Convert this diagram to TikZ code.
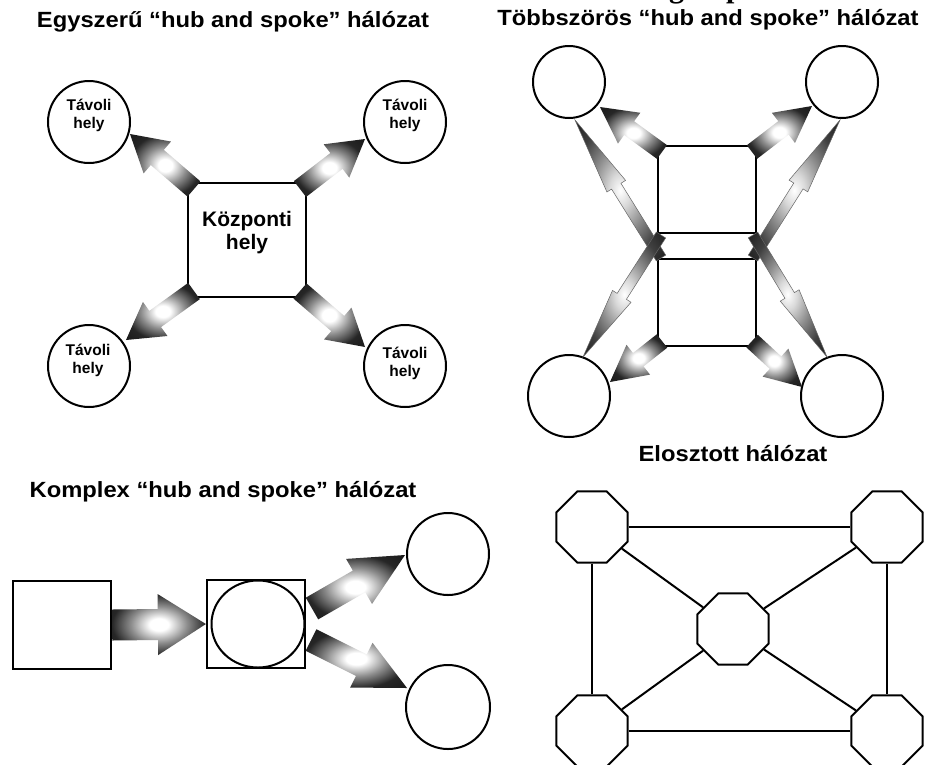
\documentclass[tikz,border=0pt]{standalone}
\usepackage{fontspec}
\usepackage{graphicx}
\setmainfont{Liberation Sans}
\newfontfamily\fragfont{Liberation Serif}
\usetikzlibrary{calc,shapes.geometric}

\pgfdeclareradialshading{fatglow}{\pgfpoint{0bp}{0bp}}{%
  color(0bp)=(white); color(5bp)=(white); color(15bp)=(black!45); color(25bp)=(black!85); color(35bp)=(black!90); color(50bp)=(black!90)}
\pgfdeclareradialshading{thinglow}{\pgfpoint{0bp}{0bp}}{%
  color(0bp)=(white); color(6bp)=(black!15); color(15bp)=(black!45); color(25bp)=(black!75); color(35bp)=(black!88); color(50bp)=(black!88)}

\newcommand\fatarrow[6][]{%
  \coordinate (faH) at ($(#3)!#6!(#2)$);
  \shade[#1] ($(#2)!#4!90:(#3)$) -- ($(faH)!#4!90:(#3)$) -- ($(faH)!#5!90:(#3)$) -- (#3)
    -- ($(faH)!#5!-90:(#3)$) -- ($(faH)!#4!-90:(#3)$) -- ($(#2)!#4!-90:(#3)$) -- cycle;
}

\tikzset{
  ttl/.style={font=\bfseries\fontsize{22}{24}\selectfont, inner sep=0pt},
  remote/.style={circle, draw, line width=2pt, minimum size=82pt, inner sep=0pt},
  rlabel/.style={align=center, inner sep=0pt, font=\bfseries\fontsize{15.5}{18}\selectfont},
  blank/.style={circle, draw, line width=2pt, inner sep=0pt},
  boxline/.style={rectangle, draw, line width=2.2pt, inner sep=0pt},
  fatshade/.style={shading=fatglow},
  thinshade/.style={shading=thinglow, draw=black!60, line width=0.5pt},
  octa/.style={regular polygon, regular polygon sides=8, draw, line width=2pt,
    minimum size=77pt, inner sep=0pt},
  edge/.style={line width=2pt},
}

\begin{document}
\begin{tikzpicture}[x=1pt,y=-1pt]
\useasboundingbox (0,0) rectangle (936,764);
\fill[white] (0,0) rectangle (936,764);

% fragment of a cut-off line at the top
\node[font=\fragfont\bfseries\fontsize{30}{32}\selectfont, anchor=base, inner sep=0pt] (frag) at (706,-3) {g\hspace{42pt}p};

% titles
\node[ttl] (title1) at (233,22) {\scalebox{1.08}[1]{Egyszerű “hub and spoke” hálózat}};
\node[ttl] (title2) at (708,20) {\scalebox{1.08}[1]{Többszörös “hub and spoke” hálózat}};
\node[ttl] (title3) at (223,492) {\scalebox{1.08}[1]{Komplex “hub and spoke” hálózat}};
\node[ttl] (title4) at (733,454) {\scalebox{1.08}[1]{Elosztott hálózat}};

% ---------- panel 1: simple hub and spoke
\node[boxline, minimum width=118pt, minimum height=114pt] (hub) at (247,240) {};
\node[font=\bfseries\fontsize{21}{23}\selectfont, align=center, inner sep=0pt] (hubl) at (247,233) {Központi\\hely};
\node[remote] (r1) at (89,122) {};
\node[remote] (r2) at (405,122) {};
\node[remote] (r3) at (89,366) {};
\node[remote] (r4) at (405,366) {};
\node[rlabel] (r1l) at (89,115) {Távoli\\hely};
\node[rlabel] (r2l) at (405,115) {Távoli\\hely};
\node[rlabel] (r3l) at (88,360) {Távoli\\hely};
\node[rlabel] (r4l) at (405,363) {Távoli\\hely};
\coordinate (b1) at (194,189); \coordinate (t1) at (130,134);
\coordinate (b2) at (300,189); \coordinate (t2) at (365,139);
\coordinate (b3) at (194,291); \coordinate (t3) at (126,340);
\coordinate (b4) at (300,291); \coordinate (t4) at (365,347);
\fatarrow[fatshade]{b1}{t1}{10pt}{21pt}{36pt}
\fatarrow[fatshade]{b2}{t2}{10pt}{21pt}{36pt}
\fatarrow[fatshade]{b3}{t3}{10pt}{21pt}{36pt}
\fatarrow[fatshade]{b4}{t4}{10pt}{21pt}{36pt}

% ---------- panel 2: multiple hub and spoke
\node[boxline, line width=2pt, minimum width=98pt, minimum height=87pt] (hu) at (707,189.5) {};
\node[boxline, line width=2pt, minimum width=98pt, minimum height=87pt] (hd) at (707,302.5) {};
\node[blank, minimum size=72pt] (m1) at (569,82) {};
\node[blank, minimum size=72pt] (m2) at (842,82) {};
\node[blank, minimum size=82pt] (m3) at (569,396) {};
\node[blank, minimum size=82pt] (m4) at (842,396) {};
\coordinate (fb1) at (662,152); \coordinate (ft1) at (600,107);
\coordinate (fb2) at (752,152); \coordinate (ft2) at (812,106);
\coordinate (fb3) at (662,341); \coordinate (ft3) at (610,382);
\coordinate (fb4) at (752,341); \coordinate (ft4) at (802,387);
\fatarrow[fatshade]{fb1}{ft1}{8.5pt}{19pt}{36pt}
\fatarrow[fatshade]{fb2}{ft2}{8.5pt}{19pt}{36pt}
\fatarrow[fatshade]{fb3}{ft3}{8.5pt}{19pt}{36pt}
\fatarrow[fatshade]{fb4}{ft4}{8.5pt}{19pt}{36pt}
\coordinate (tb1) at (661,258); \coordinate (tt1) at (575,120);
\coordinate (tb2) at (753,258); \coordinate (tt2) at (840,120);
\coordinate (tb3) at (661,235); \coordinate (tt3) at (583,357);
\coordinate (tb4) at (753,235); \coordinate (tt4) at (827,357);
\fatarrow[thinshade]{tb1}{tt1}{5.5pt}{11pt}{78pt}
\fatarrow[thinshade]{tb3}{tt3}{5.5pt}{11pt}{72pt}
\fatarrow[thinshade]{tb2}{tt2}{5.5pt}{11pt}{78pt}
\fatarrow[thinshade]{tb4}{tt4}{5.5pt}{11pt}{72pt}

% ---------- panel 3: complex hub and spoke
\node[boxline, minimum width=98pt, minimum height=88pt] (src) at (62,625) {};
\node[boxline, minimum width=98pt, minimum height=88pt] (mid) at (256,624) {};
\node[ellipse, draw, line width=2pt, minimum width=93pt, minimum height=87pt, inner sep=0pt] (midel) at (258,624) {};
\node[blank, minimum size=82pt] (k1) at (448,554) {};
\node[blank, minimum size=84pt] (k2) at (448,707) {};
\coordinate (kb0) at (src.east); \coordinate (kt0) at (mid.west);
\coordinate (kb1) at (312,608.5); \coordinate (kt1) at (405,555);
\coordinate (kb2) at (311,640); \coordinate (kt2) at (407,688);
\fatarrow[fatshade]{kb0}{kt0}{15.5pt}{30.5pt}{48pt}
\fatarrow[fatshade]{kb1}{kt1}{12.5pt}{26pt}{53pt}
\fatarrow[fatshade]{kb2}{kt2}{12pt}{25pt}{51pt}

% ---------- panel 4: distributed
\node[octa] (o1) at (592,527) {};
\node[octa] (o2) at (887,527) {};
\node[octa] (o0) at (733,629) {};
\node[octa] (o3) at (592,731) {};
\node[octa] (o4) at (887,731) {};
\draw[edge] (o1) -- (o2);
\draw[edge] (o1) -- (o3);
\draw[edge] (o2) -- (o4);
\draw[edge] (o3) -- (o4);
\draw[edge] (o0) -- (o1);
\draw[edge] (o0) -- (o2);
\draw[edge] (o0) -- (o3);
\draw[edge] (o0) -- (o4);
\end{tikzpicture}
\end{document}
